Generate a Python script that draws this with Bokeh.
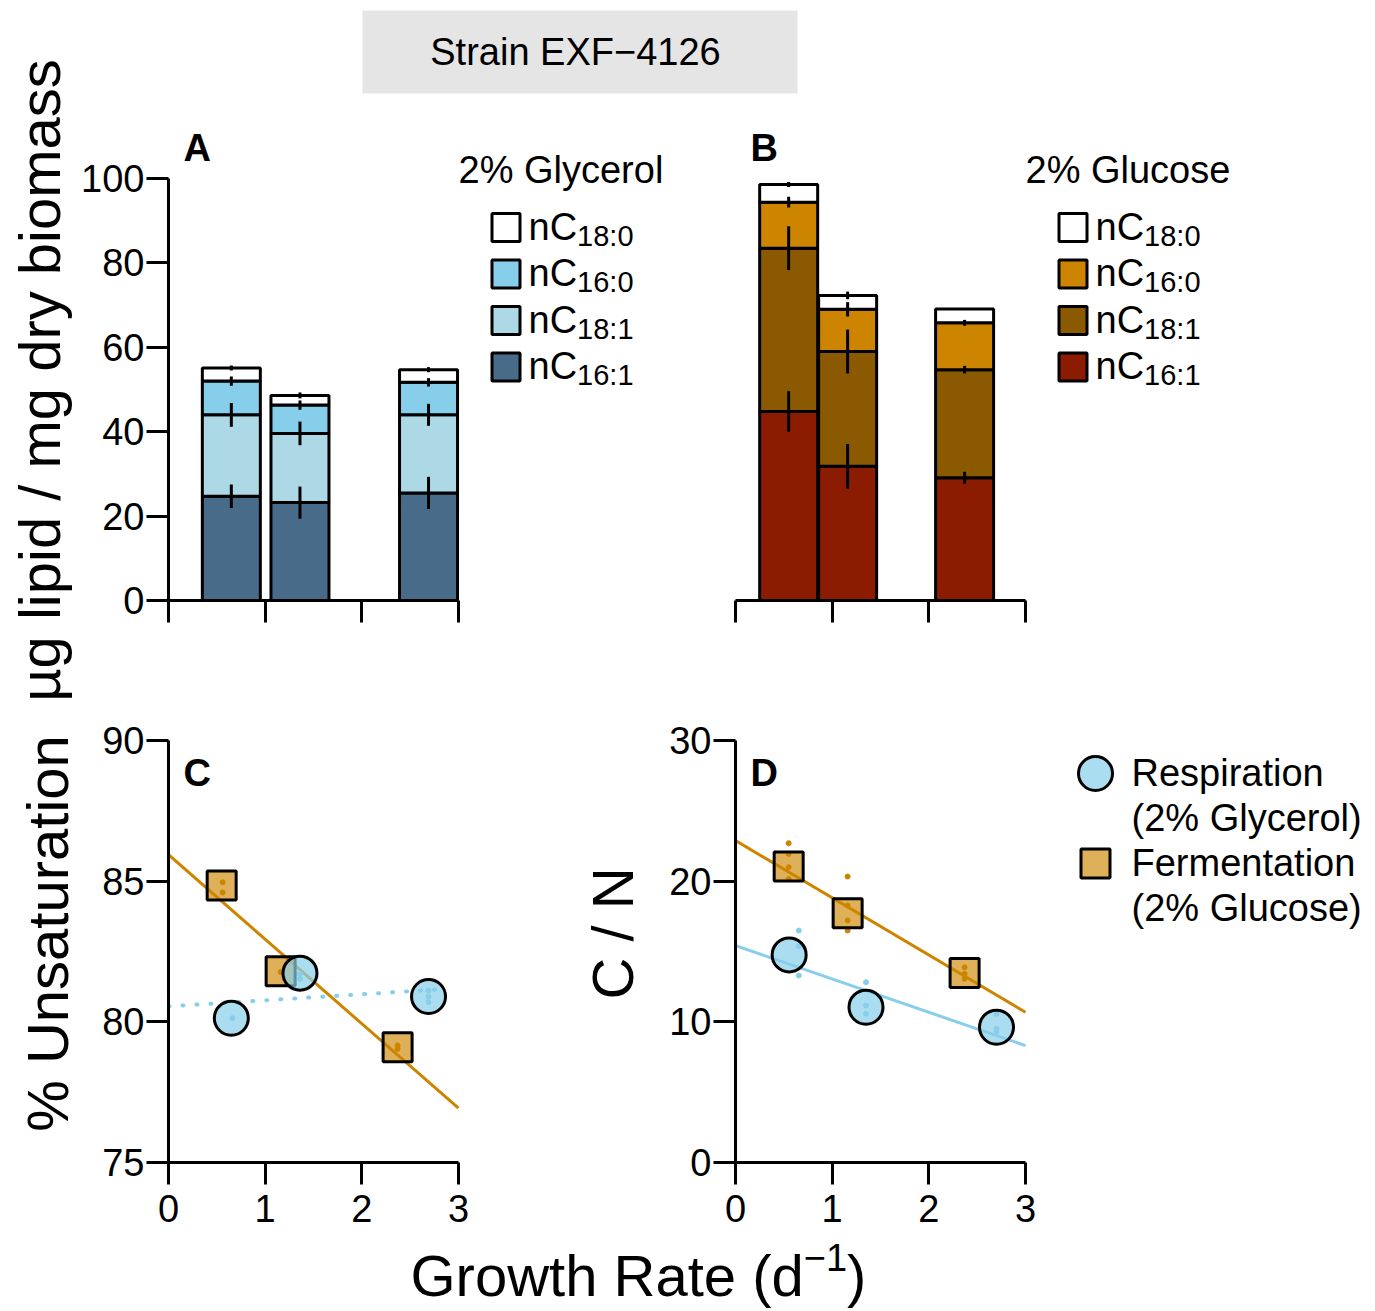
import numpy as np
from bokeh.plotting import figure
from bokeh.layouts import row, column
from bokeh.models import Range1d, FixedTicker, LinearAxis
from bokeh.core.properties import value
from bokeh.embed import file_html
from bokeh.resources import INLINE

FONT = "Liberation Sans"

# ---------------- data ----------------
# growth rates (d^-1)
resp_rate = [0.65, 1.36, 2.69]        # respiration, 2% glycerol
ferm_rate = [0.55, 1.16, 2.37]        # fermentation, 2% glucose

# fatty acids, stacked bottom -> top
acid_sub = ["16:1", "18:1", "16:0", "18:0"]

# ug lipid / mg dry biomass, 2% glycerol
gly_c16_1 = [24.7, 23.2, 25.5]
gly_c18_1 = [19.3, 16.4, 18.5]
gly_c16_0 = [8.0, 6.7, 7.7]
gly_c18_0 = [3.1, 2.3, 3.0]
gly_c16_1_err = [2.8, 3.8, 3.8]
gly_c18_1_err = [2.8, 2.8, 2.6]
gly_c16_0_err = [1.1, 1.1, 1.0]
gly_c18_0_err = [0.6, 0.7, 0.6]

# ug lipid / mg dry biomass, 2% glucose
glu_c16_1 = [44.8, 31.8, 29.1]
glu_c18_1 = [38.7, 27.2, 25.6]
glu_c16_0 = [10.9, 10.0, 11.1]
glu_c18_0 = [4.2, 3.3, 3.3]
glu_c16_1_err = [4.8, 5.3, 1.4]
glu_c18_1_err = [5.2, 5.2, 0.9]
glu_c16_0_err = [1.3, 1.7, 0.7]
glu_c18_0_err = [0.6, 0.9, 0.2]

gly_colors = ["#486B8A", "#ADD8E6", "#87CEEB", "#FFFFFF"]
glu_colors = ["#8B1C02", "#8B5A00", "#CD8500", "#FFFFFF"]

# % unsaturation
unsat_resp = [80.13, 81.73, 80.90]
unsat_ferm = [84.85, 81.80, 79.10]
unsat_resp_rep_x = [0.66, 1.36, 1.36, 2.69, 2.69, 2.69]
unsat_resp_rep = [80.13, 81.70, 81.53, 81.11, 80.90, 80.70]
unsat_ferm_rep_x = [0.56, 0.56, 1.16, 2.37, 2.37]
unsat_ferm_rep = [84.96, 84.60, 81.77, 79.16, 79.04]
unsat_fit_ferm_x = [0.0, 3.0]
unsat_fit_ferm = [85.94, 76.93]
unsat_fit_resp_x = [0.0, 2.88]
unsat_fit_resp = [80.55, 81.17]

# C / N
cn_resp_x = [0.555, 1.35, 2.70]
cn_resp = [14.76, 11.04, 9.62]
cn_ferm = [21.04, 17.72, 13.48]
cn_resp_rep_x = [0.655, 0.655, 0.655, 1.35, 1.35, 1.35, 2.70, 2.70, 2.70]
cn_resp_rep = [16.49, 15.37, 13.29, 12.82, 11.16, 10.57, 10.57, 9.50, 9.30]
cn_ferm_rep_x = [0.55, 0.55, 0.55, 0.55, 1.16, 1.16, 1.16, 1.16, 2.37, 2.37, 2.37]
cn_ferm_rep = [22.70, 21.94, 20.99, 20.16, 20.33, 18.27, 17.20, 16.49, 13.88, 13.41, 13.06]
cn_fit_x = [0.0, 3.0]
cn_fit_ferm = [22.89, 10.68]
cn_fit_resp = [15.42, 8.31]

RESP_COLOR = "#87CEEB"
FERM_COLOR = "#CD8500"

# ---------------- geometry (pixels) ----------------
SX = 290 / 3            # px per growth-rate unit
SY_LIPID = 422 / 100
SY_UNSAT = 422 / 15
SY_CN = 422 / 30
BAR_W = 0.6
BASELINE_FIX = 0.38     # text anchor sits this many em above the drawn baseline

# arial-compatible advance widths (em) for the few composed labels
ADV = {"n": 0.556, "C": 0.722, "\u2212": 0.584, "1": 0.556}


def adv(s, size):
    return sum(ADV[c] for c in s) * size


def panel(width, height, left, bottom, x_end, y0, y_end):
    p = figure(width=width, height=height, output_backend="svg", toolbar_location=None,
               x_range=Range1d(0, x_end), y_range=Range1d(y0, y_end),
               x_axis_type=None, y_axis_type=None,
               min_border_left=left, min_border_right=0,
               min_border_top=0, min_border_bottom=bottom)
    p.outline_line_color = None
    p.background_fill_color = "white"
    p.border_fill_color = "white"
    return p


def blank(width, height, x0, x1, y0, y1):
    p = figure(width=width, height=height, output_backend="svg", toolbar_location=None,
               x_range=Range1d(x0, x1), y_range=Range1d(y0, y1),
               x_axis_type=None, y_axis_type=None,
               min_border_left=0, min_border_right=0, min_border_top=0, min_border_bottom=0)
    p.outline_line_color = None
    p.background_fill_color = "white"
    p.border_fill_color = "white"
    return p


def axis(p, side, ticks, bounds, labels=True, title=None, title_standoff=0, standoff=2):
    ax = LinearAxis()
    ax.ticker = FixedTicker(ticks=ticks)
    ax.bounds = bounds
    ax.axis_line_width = 3
    ax.axis_line_color = "black"
    ax.major_tick_line_width = 3
    ax.major_tick_line_color = "black"
    ax.major_tick_out = 22
    ax.major_tick_in = 0
    ax.minor_tick_line_color = None
    ax.major_label_text_font = FONT
    ax.major_label_text_font_size = "38px"
    ax.major_label_text_color = "black" if labels else None
    ax.major_label_standoff = standoff
    if title is not None:
        ax.axis_label = title
        ax.axis_label_text_font = FONT
        ax.axis_label_text_font_size = "58px"
        ax.axis_label_text_font_style = "normal"
        ax.axis_label_text_color = "black"
        ax.axis_label_standoff = title_standoff
    p.add_layout(ax, side)
    return ax


def txt(p, fx, fy, gx, gy, s, size, align="left", bold=False):
    """Text whose alphabetic baseline lands on pixel row gy."""
    p.text(x=[fx(gx)], y=[fy(gy - BASELINE_FIX * size)], text=[s],
           text_font=value(FONT), text_font_size=value(f"{size}px"),
           text_font_style="bold" if bold else "normal", text_align=align,
           text_baseline="alphabetic", text_color="black")


def stacked(p, xs, parts, errs, colors):
    bottom = np.zeros(len(xs))
    tops = []
    for vals, col in zip(parts, colors):
        top = bottom + np.asarray(vals)
        p.vbar(x=xs, width=BAR_W, bottom=bottom, top=top,
               fill_color=col, line_color="black", line_width=3)
        tops.append(top)
        bottom = top
    for top, err in zip(tops, errs):
        err = np.asarray(err)
        p.segment(x0=xs, y0=top - err, x1=xs, y1=top + err,
                  line_color="black", line_width=3)


def stack_legend(p, fx, fy, gx, title, colors):
    txt(p, fx, fy, gx, 184, title, 38)
    order = [3, 2, 1, 0]          # top row shows the top of the stack
    for i, k in enumerate(order):
        gy = 227 + 46.5 * i
        p.scatter(x=[fx(gx + 47.5)], y=[fy(gy)], marker="square", size=28,
                  fill_color=colors[k], line_color="black", line_width=3)
        txt(p, fx, fy, gx + 70, gy + 13.5, "nC", 38)
        txt(p, fx, fy, gx + 70 + adv("nC", 38), gy + 19.5, acid_sub[k], 29)


ident = lambda v: v

# ---------------- header strip ----------------
head = blank(1297, 105, 78, 1375, 105, 0)
head.quad(left=[362], right=[797], top=[10], bottom=[93], fill_color="#E5E5E5", line_color=None)
txt(head, ident, ident, 575, 66, "Strain EXF\u22124126", 38, align="center")

# ---------------- shared y title of the lipid panels ----------------
ylab = blank(78, 704, 0, 78, 704, 0)
ylab.text(x=[61 - BASELINE_FIX * 58], y=[380], text=["\u00b5g lipid / mg dry biomass"],
          text_font=value(FONT), text_font_size=value("58px"), text_align="center",
          text_baseline="alphabetic", text_color="black", angle=np.pi / 2)

# ---------------- panel A: 2% glycerol ----------------
ax_ = lambda gx: (gx - 168) / SX
ay_ = lambda gy: (600 - gy) / SY_LIPID
pa = panel(622, 599, 90, 104, ax_(700), 0, ay_(105))
axis(pa, "left", [0, 20, 40, 60, 80, 100], (0, 100))
axis(pa, "below", [0, 1, 2, 3], (0, 3), labels=False)
stacked(pa, resp_rate, [gly_c16_1, gly_c18_1, gly_c16_0, gly_c18_0],
        [gly_c16_1_err, gly_c18_1_err, gly_c16_0_err, gly_c18_0_err], gly_colors)
txt(pa, ax_, ay_, 183, 162, "A", 38, bold=True)
stack_legend(pa, ax_, ay_, 458, "2% Glycerol", gly_colors)

# ---------------- panel B: 2% glucose ----------------
bx_ = lambda gx: (gx - 735) / SX
pb = panel(675, 599, 35, 104, bx_(1375), 0, ay_(105))
axis(pb, "below", [0, 1, 2, 3], (0, 3), labels=False)
stacked(pb, ferm_rate, [glu_c16_1, glu_c18_1, glu_c16_0, glu_c18_0],
        [glu_c16_1_err, glu_c18_1_err, glu_c16_0_err, glu_c18_0_err], glu_colors)
txt(pb, bx_, ay_, 750, 162, "B", 38, bold=True)
stack_legend(pb, bx_, ay_, 1025, "2% Glucose", glu_colors)

# ---------------- panel C: % unsaturation ----------------
cy_ = lambda gy: 75 + (1162 - gy) / SY_UNSAT
pc = panel(570, 534, 168, 76, ax_(570), 75, cy_(704))
axis(pc, "left", [75, 80, 85, 90], (75, 90), title="% Unsaturation", title_standoff=19)
axis(pc, "below", [0, 1, 2, 3], (0, 3), standoff=10)
pc.line(unsat_fit_ferm_x, unsat_fit_ferm, line_color=FERM_COLOR, line_width=3)
pc.line(unsat_fit_resp_x, unsat_fit_resp, line_color=RESP_COLOR, line_width=4,
        line_dash="1 13", line_cap="round")
pc.scatter(unsat_ferm_rep_x, unsat_ferm_rep, size=5, color=FERM_COLOR)
pc.scatter(unsat_resp_rep_x, unsat_resp_rep, size=5, color=RESP_COLOR)
pc.scatter(ferm_rate, unsat_ferm, marker="square", size=29, fill_color=FERM_COLOR,
           fill_alpha=0.65, line_color="black", line_width=3)
pc.scatter(resp_rate, unsat_resp, marker="circle", size=34, fill_color=RESP_COLOR,
           fill_alpha=0.7, line_color="black", line_width=3)
txt(pc, ax_, cy_, 183, 787, "C", 38, bold=True)

# ---------------- panel D: C / N ----------------
dy_ = lambda gy: (1162 - gy) / SY_CN
pd_ = panel(805, 534, 165, 76, bx_(1375), 0, dy_(704))
axis(pd_, "left", [0, 10, 20, 30], (0, 30), title="C / N", title_standoff=21)
axis(pd_, "below", [0, 1, 2, 3], (0, 3), standoff=10)
pd_.line(cn_fit_x, cn_fit_ferm, line_color=FERM_COLOR, line_width=3)
pd_.line(cn_fit_x, cn_fit_resp, line_color=RESP_COLOR, line_width=3)
pd_.scatter(cn_ferm_rep_x, cn_ferm_rep, size=5, color=FERM_COLOR)
pd_.scatter(cn_resp_rep_x, cn_resp_rep, size=5, color=RESP_COLOR)
pd_.scatter(ferm_rate, cn_ferm, marker="square", size=29, fill_color=FERM_COLOR,
            fill_alpha=0.65, line_color="black", line_width=3)
pd_.scatter(cn_resp_x, cn_resp, marker="circle", size=34, fill_color=RESP_COLOR,
            fill_alpha=0.7, line_color="black", line_width=3)
txt(pd_, bx_, dy_, 750, 787, "D", 38, bold=True)

# legend of the scatter panels
pd_.scatter([bx_(1095)], [dy_(773)], marker="circle", size=34, fill_color=RESP_COLOR,
            fill_alpha=0.7, line_color="black", line_width=3)
pd_.scatter([bx_(1095)], [dy_(863)], marker="square", size=29, fill_color=FERM_COLOR,
            fill_alpha=0.65, line_color="black", line_width=3)
txt(pd_, bx_, dy_, 1131, 787, "Respiration", 38)
txt(pd_, bx_, dy_, 1131, 832, "(2% Glycerol)", 38)
txt(pd_, bx_, dy_, 1131, 877, "Fermentation", 38)
txt(pd_, bx_, dy_, 1131, 922, "(2% Glucose)", 38)

# ---------------- shared x title ----------------
xlab = blank(1375, 73, 0, 1375, 1311, 1238)
main = "Growth Rate (d"
main_w = sum({"G": .778, "r": .333, "o": .556, "w": .722, "t": .278, "h": .556, " ": .278,
              "R": .722, "a": .556, "e": .556, "(": .333, "d": .556}[c] for c in main) * 58
txt(xlab, ident, ident, 410, 1297, main, 58)
txt(xlab, ident, ident, 410 + main_w, 1271, "\u22121", 38)
txt(xlab, ident, ident, 410 + main_w + adv("\u22121", 38), 1297, ")", 58)

layout = column(
    row(ylab, column(head, row(pa, pb))),
    row(pc, pd_),
    xlab,
)

with open("out.html", "w") as f:
    f.write(file_html(layout, INLINE))
